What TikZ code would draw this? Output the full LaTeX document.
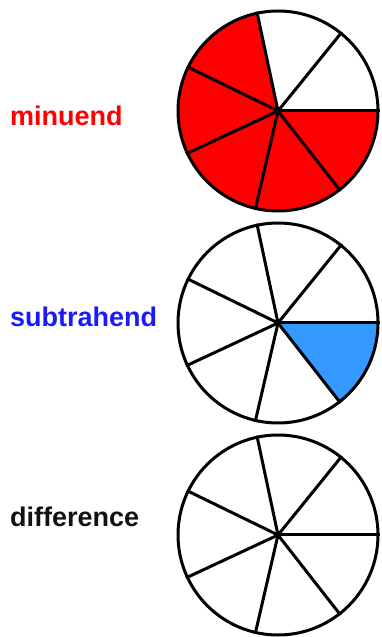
\documentclass[tikz,border=0pt]{standalone}
\usepackage{fontspec}
\setmainfont{Liberation Sans}
\usepackage{xcolor}
\usetikzlibrary{positioning, calc}
\definecolor{minuendred}{HTML}{FF0000}
\definecolor{subtrblue}{HTML}{1A1AFF}
\definecolor{piceblue}{HTML}{3399FF}
\definecolor{darktext}{HTML}{111111}

\begin{document}
\begin{tikzpicture}[x=1pt, y=1pt,
    wheel/.style={circle, draw=black, line width=3pt, minimum size=200pt, inner sep=0pt},
    spoke/.style={line width=3pt, black},
    lbl/.style={font=\fontsize{27}{30}\selectfont\bfseries, inner sep=0pt, anchor=base west}
]
    \useasboundingbox (0,0) rectangle (382,637);
    \coordinate (mc) at (278,526);
    \coordinate (sc) at (278,314);
    \coordinate (dc) at (278,102);
    % shaded pieces go under the outlines
    \fill[minuendred] (mc) -- ++(102.86:100) arc[start angle=102.86, end angle=360, radius=100] -- cycle;
    \fill[piceblue] (sc) -- ++(308.57:100) arc[start angle=308.57, end angle=360, radius=100] -- cycle;
    \node[wheel] (minpie) at (mc) {};
    \node[wheel] (subpie) at (sc) {};
    \node[wheel] (difpie) at (dc) {};
    \foreach \k [evaluate=\k as \a using \k*360/7] in {0,...,6} {
        \draw[spoke] (minpie.center) -- (minpie.\a);
        \draw[spoke] (subpie.center) -- (subpie.\a);
        \draw[spoke] (difpie.center) -- (difpie.\a);
    }
    \node[lbl, text=minuendred] (minlbl) at (10,511) {minuend};
    \node[lbl, text=subtrblue] (sublbl) at (10,310) {subtrahend};
    \node[lbl, text=darktext] (diflbl) at (10,110) {difference};
\end{tikzpicture}
\end{document}
